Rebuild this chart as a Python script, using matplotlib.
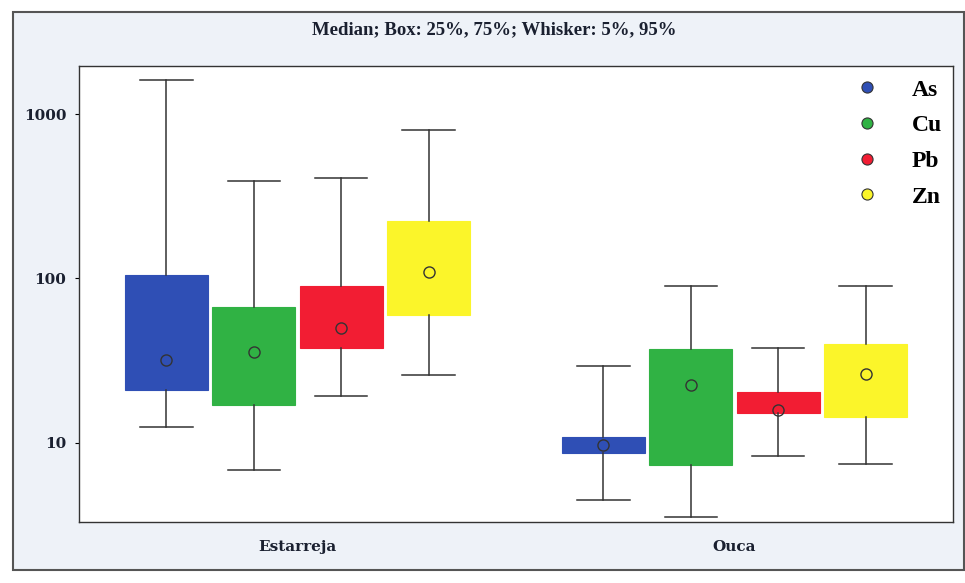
import matplotlib
matplotlib.use('Agg')
import matplotlib.pyplot as plt
from matplotlib.patches import Rectangle
from matplotlib.lines import Line2D

sites = ['Estarreja', 'Ouca']
metals = ['As', 'Cu', 'Pb', 'Zn']
colors = ['#2f4fb5', '#30b244', '#f21d33', '#fbf52a']

# per site, per metal: 5th, 25th, median, 75th, 95th percentile
p05 = [[12.4, 6.85, 19.2, 25.7], [4.5, 3.55, 8.3, 7.45]]
p25 = [[21.0, 17.1, 37.5, 59.6], [8.7, 7.35, 15.1, 14.3]]
med = [[31.7, 35.5, 49.7, 110.0], [9.7, 22.4, 15.8, 26.4]]
p75 = [[105.0, 66.7, 89.4, 225.0], [10.9, 37.1, 20.3, 39.7]]
p95 = [[1610.0, 389.0, 411.0, 800.0], [29.2, 89.4, 38.0, 89.4]]

serif = ['Liberation Serif', 'DejaVu Serif']
wide = ['DejaVu Serif']

fig = plt.figure(figsize=(9.65, 5.83), dpi=100)
fig.patch.set_facecolor('white')
# scanned-panel frame
fig.patches.append(Rectangle((13 / 965, 1 - 570 / 583), 951 / 965, 558 / 583,
                             transform=fig.transFigure, facecolor='#eef2f8',
                             edgecolor='#555555', linewidth=1.5, zorder=-5))

ax = fig.add_axes([79 / 965, 1 - 522 / 583, 874 / 965, 456 / 583])
ax.set_facecolor('white')

step = 0.2
width = 0.19
for si, site in enumerate(sites):
    for mi, m in enumerate(metals):
        pos = si + (mi - 1.5) * step
        stats = [{'med': med[si][mi], 'mean': med[si][mi],
                  'q1': p25[si][mi], 'q3': p75[si][mi],
                  'whislo': p05[si][mi], 'whishi': p95[si][mi],
                  'fliers': []}]
        ax.bxp(stats, positions=[pos], widths=width, patch_artist=True,
               showmeans=True, manage_ticks=False,
               boxprops=dict(facecolor=colors[mi], edgecolor=colors[mi], linewidth=0.8),
               medianprops=dict(linewidth=0),
               whiskerprops=dict(color='#333333', linewidth=1.1),
               capprops=dict(color='#333333', linewidth=1.1),
               capwidths=0.12,
               meanprops=dict(marker='o', markersize=8, markerfacecolor='none',
                              markeredgecolor='#333333', markeredgewidth=1.0))

ax.set_yscale('log')
ax.set_ylim(3.3, 1960)
ax.set_xlim(-0.5, 1.5)
ax.set_yticks([10, 100, 1000])
ax.set_yticklabels(['10', '100', '1000'])
ax.yaxis.set_minor_locator(matplotlib.ticker.NullLocator())
ax.set_xticks([0, 1])
ax.set_xticklabels(sites)
ax.tick_params(axis='x', length=0, pad=13)
ax.tick_params(axis='y', length=3, pad=6, direction='out')
for lab in ax.get_xticklabels() + ax.get_yticklabels():
    lab.set_family(wide)
    lab.set_fontweight('bold')
    lab.set_fontsize(11)
    lab.set_color('#1a2030')
for s in ax.spines.values():
    s.set_color('#333333')
    s.set_linewidth(1.0)

handles = [Line2D([], [], linestyle='none', marker='o', markersize=8,
                  markerfacecolor=c, markeredgecolor='#333333', markeredgewidth=0.8)
           for c in colors]
ax.legend(handles, metals, loc='upper right', frameon=False,
          prop=dict(family=serif, weight='bold', size=17),
          handletextpad=0.9, labelspacing=0.6, borderaxespad=0.15,
          bbox_to_anchor=(1.002, 1.0))

fig.text(494 / 965, 1 - 30 / 583, 'Median; Box: 25%, 75%; Whisker: 5%, 95%',
         ha='center', va='center', family=serif, fontweight='bold',
         fontsize=13.5, color='#1a2030')

fig.savefig('out.png', dpi=100)
